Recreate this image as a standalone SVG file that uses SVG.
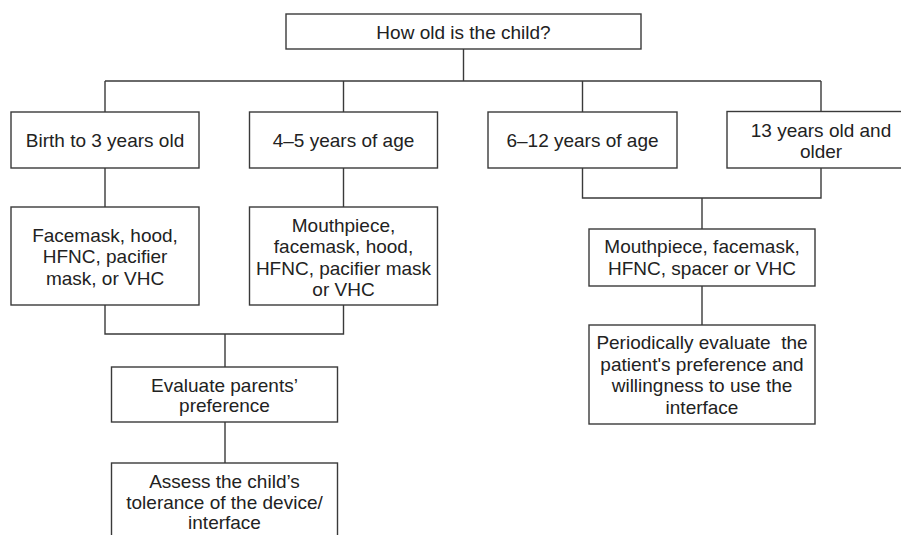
<svg xmlns="http://www.w3.org/2000/svg" width="901" height="535" viewBox="0 0 901 535">
<style>
.box{fill:#fff;stroke:#3a3a3a;stroke-width:1.4}
.ln{fill:none;stroke:#3a3a3a;stroke-width:1.4}
text{font-family:"Liberation Sans",Arial,sans-serif;font-size:19px;fill:#222;text-anchor:middle}
</style>
<rect width="901" height="535" fill="#fff"/>
<g id="connectors">
<path class="ln" d="M463.5,49V81M105,81H821M105,81V112M343.5,81V112M582.5,81V112M821,81V112"/>
<path class="ln" d="M105,168V207M343.5,168V207M105,305V334H343.5V305M225,334V367M225,422V463"/>
<path class="ln" d="M582.5,168V198H821V168M702,198V229M702,286V325"/>
</g>
<g id="n-root"><rect class="box" x="286" y="14" width="355" height="35"/><text x="463.5" y="38.5">How old is the child?</text></g>
<g id="n-birth"><rect class="box" x="11" y="112" width="188" height="56"/><text x="105" y="146.5">Birth to 3 years old</text></g>
<g id="n-45"><rect class="box" x="249.5" y="112" width="188" height="56"/><text x="343.5" y="146.5">4–5 years of age</text></g>
<g id="n-612"><rect class="box" x="488" y="112" width="189" height="56"/><text x="582.5" y="146.5">6–12 years of age</text></g>
<g id="n-13"><rect class="box" x="727" y="111.5" width="190" height="56.5"/><text x="821" y="136.5">13 years old and</text><text x="821" y="157.5">older</text></g>
<g id="n-face"><rect class="box" x="11" y="207" width="188" height="98"/><text x="105" y="241.5">Facemask, hood,</text><text x="105" y="263">HFNC, pacifier</text><text x="105" y="284.5">mask, or VHC</text></g>
<g id="n-mouth45"><rect class="box" x="249.5" y="207" width="188" height="98"/><text x="343.5" y="231.5">Mouthpiece,</text><text x="343.5" y="253">facemask, hood,</text><text x="343.5" y="274.5">HFNC, pacifier mask</text><text x="343.5" y="296">or VHC</text></g>
<g id="n-mouth612"><rect class="box" x="589" y="229" width="226" height="57"/><text x="702" y="253">Mouthpiece, facemask,</text><text x="702" y="274.5">HFNC, spacer or VHC</text></g>
<g id="n-eval"><rect class="box" x="111.5" y="367" width="226" height="55"/><text x="224.5" y="391.5">Evaluate parents’</text><text x="224.5" y="412">preference</text></g>
<g id="n-assess"><rect class="box" x="111.5" y="463" width="226" height="90"/><text x="224.5" y="488">Assess the child’s</text><text x="224.5" y="508.5">tolerance of the device/</text><text x="224.5" y="529">interface</text></g>
<g id="n-period"><rect class="box" x="589" y="325" width="226" height="99"/><text x="702" y="349" xml:space="preserve">Periodically evaluate  the</text><text x="702" y="370.5">patient's preference and</text><text x="702" y="392">willingness to use the</text><text x="702" y="413.5">interface</text></g>
</svg>
